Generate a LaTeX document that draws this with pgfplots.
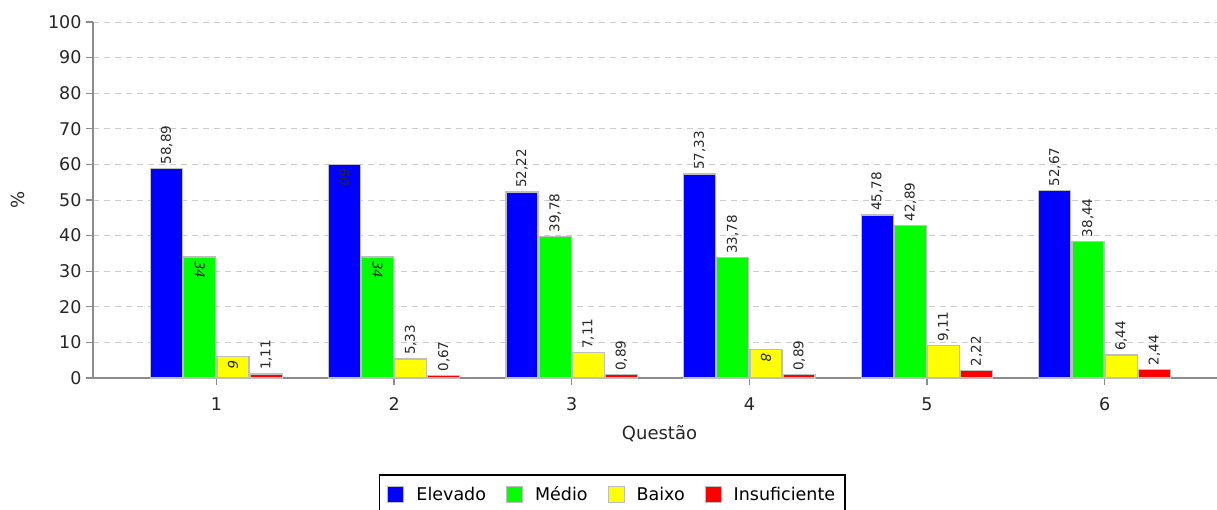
\documentclass[border=0pt]{standalone}
\usepackage{fontspec}
\setmainfont{DejaVu Sans}
\usepackage{pgfplots}
\usepackage{pgfplotstable}
\pgfplotsset{compat=1.18}

\definecolor{cBlue}{RGB}{0,0,255}
\definecolor{cGreen}{RGB}{0,255,0}
\definecolor{cYellow}{RGB}{255,255,0}
\definecolor{cRed}{RGB}{255,0,0}
\definecolor{cAxis}{RGB}{140,140,140}
\definecolor{cEdge}{RGB}{190,190,190}

\pgfplotstableread{
x y lab rot
1 58.89 58,89 90
2 60 60 -90
3 52.22 52,22 90
4 57.33 57,33 90
5 45.78 45,78 90
6 52.67 52,67 90
}\elevado
\pgfplotstableread{
x y lab rot
1 34 34 -90
2 34 34 -90
3 39.78 39,78 90
4 33.78 33,78 90
5 42.89 42,89 90
6 38.44 38,44 90
}\medio
\pgfplotstableread{
x y lab rot
1 6 6 -90
2 5.33 5,33 90
3 7.11 7,11 90
4 8 8 -90
5 9.11 9,11 90
6 6.44 6,44 90
}\baixo
\pgfplotstableread{
x y lab rot
1 1.11 1,11 90
2 0.67 0,67 90
3 0.89 0,89 90
4 0.89 0,89 90
5 2.22 2,22 90
6 2.44 2,44 90
}\insuf

\pgfplotsset{
  mybar/.style={draw=cEdge, line width=1.2pt, fill=#1,
    legend image code/.code={\draw[fill=#1, draw=cEdge, line width=1pt] (0pt,-8pt) rectangle (16pt,8pt);}},
}

\begin{document}
\begin{tikzpicture}
\useasboundingbox (-93pt,-131pt) rectangle (1124pt,378pt);
\begin{axis}[
  scale only axis, width=1124pt, height=356pt,
  xmin=0.305, xmax=6.633, ymin=0, ymax=100,
  ybar=1.2pt, bar width=0.18,
  xtick={1,2,3,4,5,6}, ytick={0,10,...,100},
  axis lines*=left,
  axis line style={cAxis, line width=1.6pt},
  tick align=outside, major tick length=7pt,
  tick style={cAxis, line width=1.2pt},
  ymajorgrids, grid style={dash pattern=on 6pt off 5pt, gray!40, line width=0.8pt},
  /pgf/number format/assume math mode=true,
  tick label style={font=\fontsize{17.5}{19}\selectfont, text=black!85},
  yticklabel style={xshift=-1pt},
  xticklabel style={yshift=-9pt},
  xlabel={Questão}, ylabel={\%},
  xlabel style={at={(axis description cs:0.504,-0.155)}, anchor=center, font=\fontsize{18}{20}\selectfont, text=black!85},
  ylabel style={at={(axis description cs:-0.0667,0.5)}, anchor=center, font=\fontsize{18}{20}\selectfont, text=black!85},
  nodes near coords,
  point meta=explicit symbolic,
  visualization depends on={\thisrow{rot} \as \rot},
  every node near coord/.append style={rotate=\rot, anchor=west, inner sep=3.5pt,
    font=\fontsize{13.5}{15}\selectfont\ifdim\rot pt<0pt \itshape\fi, text=black!85},
  legend columns=4,
  legend style={at={(axis description cs:0.462,-0.2697)}, anchor=north,
    draw=black, line width=1.5pt, font=\fontsize{17.5}{20}\selectfont,
    inner xsep=8pt, inner ysep=10pt,
    /tikz/every even column/.append style={column sep=18pt},
    /tikz/every odd column/.append style={column sep=10pt}},
  legend cell align=left,
]
\addplot[mybar=cBlue] table[x=x, y=y, meta=lab] {\elevado};
\addplot[mybar=cGreen] table[x=x, y=y, meta=lab] {\medio};
\addplot[mybar=cYellow] table[x=x, y=y, meta=lab] {\baixo};
\addplot[mybar=cRed] table[x=x, y=y, meta=lab] {\insuf};
\legend{Elevado, Médio, Baixo, Insuficiente}
\end{axis}
\end{tikzpicture}
\end{document}
